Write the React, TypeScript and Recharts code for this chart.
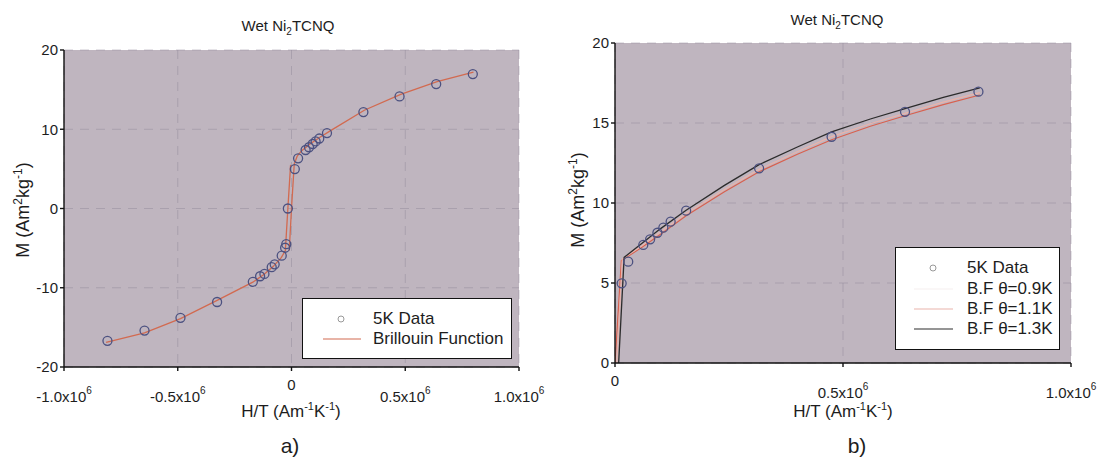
import React from 'react';
import { ComposedChart, Scatter, Line, XAxis, YAxis, CartesianGrid } from 'recharts';

// 5K data, negative field branch
const negH = [-809000, -646000, -488000, -327000, -170000, -138000, -119000, -87000, -74000, -43000, -28000, -23000, -16000];
const negM = [-16.7, -15.4, -13.8, -11.8, -9.25, -8.55, -8.25, -7.4, -7.05, -5.95, -4.95, -4.5, 0.0];
// 5K data, positive branch
const posH = [14600, 29000, 62000, 77000, 93000, 106000, 122000, 156000, 316000, 475000, 636000, 797000];
const posM = [4.98, 6.33, 7.38, 7.73, 8.14, 8.46, 8.83, 9.52, 12.17, 14.14, 15.7, 16.96];

// Brillouin fit, panel a (drawn as two branches, they overlap except near zero)
const bfNegH = [-815000, -646000, -488000, -327000, -170000, -120000, -80000, -45000, -27000, -16000, -4000];
const bfNegM = [-16.9, -15.7, -13.9, -11.6, -9.3, -8.3, -7.3, -6.2, -5.3, 0, 5.5];
const bfPosH = [-10000, 0, 12000, 25000, 45000, 80000, 120000, 170000, 320000, 480000, 640000, 800000];
const bfPosM = [-5.3, 0, 5.6, 6.6, 7.3, 8.1, 8.9, 9.8, 12.4, 14.4, 16.0, 17.2];

// Brillouin fits, panel b
const bf09H = [0, 14000, 60000, 100000, 156000, 240000, 316000, 400000, 475000, 560000, 636000, 720000, 800000];
const bf09M = [0, 6.4, 7.25, 8.05, 9.2, 10.7, 11.95, 13.05, 13.95, 14.8, 15.45, 16.15, 16.75];
const bf11H = [4000, 16000, 60000, 100000, 156000, 240000, 316000, 400000, 475000, 560000, 636000, 720000, 800000];
const bf11M = [0, 6.5, 7.35, 8.2, 9.35, 10.85, 12.1, 13.2, 14.15, 14.95, 15.6, 16.3, 16.9];
const bf13H = [8000, 20000, 60000, 100000, 156000, 240000, 316000, 400000, 475000, 560000, 636000, 720000, 800000];
const bf13M = [0, 6.6, 7.5, 8.4, 9.55, 11.1, 12.4, 13.5, 14.45, 15.25, 15.9, 16.6, 17.2];

const leftXTicks = [-1000000, -500000, 0, 500000, 1000000];
const leftXLabels = ['-1.0x10', '-0.5x10', '0', '0.5x10', '1.0x10'];
const leftYTicks = [-20, -10, 0, 10, 20];
const rightXTicks = [0, 500000, 1000000];
const rightXLabels = ['0', '0.5x10', '1.0x10'];
const rightYTicks = [0, 5, 10, 15, 20];

const FONT = '"Liberation Sans", Arial, sans-serif';
const TXT = '#1d1d1d';
const PLOT_BG = '#bfb5bf';
const GRID = '#8f8896';
const DATA_C = '#4c5180';
const BF_C = '#d26a50';
const BF09_C = '#d8604e';
const BF11_C = '#e9b3ab';
const BF13_C = '#2c2c2c';

const zip = (h: number[], m: number[]) => h.map((v, i) => ({ h: v, m: m[i] }));

function PowTick(props: any) {
  const { x, y, payload, ticks, labels } = props;
  const i = ticks.indexOf(payload.value);
  const base = labels[i] ?? '';
  if (base === '0') {
    return (
      <text x={x} y={y + 17} textAnchor="middle" fontSize={15} fontFamily={FONT} fill={TXT}>0</text>
    );
  }
  return (
    <text x={x} y={y + 29} textAnchor="middle" fontSize={15} fontFamily={FONT} fill={TXT}>
      {base}
      <tspan dy={-8} fontSize={10}>6</tspan>
    </text>
  );
}

const circleShape = (p: any) => (
  <circle cx={p.cx} cy={p.cy} r={4.5} fill="none" stroke={DATA_C} strokeWidth={1.3} />
);

const noLabel = () => '';

function Title({ left, top }: { left: number; top: number }) {
  return (
    <div style={{ position: 'absolute', left, top, transform: 'translate(-50%, -50%)', fontFamily: FONT, fontSize: 15, color: TXT, whiteSpace: 'nowrap' }}>
      Wet Ni<sub style={{ fontSize: 10 }}>2</sub>TCNQ
    </div>
  );
}

function XLabel({ left, top }: { left: number; top: number }) {
  return (
    <div style={{ position: 'absolute', left, top, transform: 'translate(-50%, -50%)', fontFamily: FONT, fontSize: 17, color: TXT, whiteSpace: 'nowrap' }}>
      H/T (Am<sup style={{ fontSize: 11 }}>-1</sup>K<sup style={{ fontSize: 11 }}>-1</sup>)
    </div>
  );
}

function YLabel({ left, top }: { left: number; top: number }) {
  return (
    <div style={{ position: 'absolute', left, top, transform: 'translate(-50%, -50%) rotate(-90deg)', fontFamily: FONT, fontSize: 18, color: TXT, whiteSpace: 'nowrap' }}>
      M (Am<sup style={{ fontSize: 12 }}>2</sup>kg<sup style={{ fontSize: 12 }}>-1</sup>)
    </div>
  );
}

function Panel(props: any) {
  const { width, margin, xDomain, xTicks, xLabels, yDomain, yTicks, yWidth, children } = props;
  return (
    <ComposedChart width={width} height={464} margin={margin}>
      <CartesianGrid fill={PLOT_BG} fillOpacity={1} stroke={GRID} strokeDasharray="9 7" strokeOpacity={0.45} />
      <XAxis dataKey="h" type="number" domain={xDomain} ticks={xTicks} allowDataOverflow height={30}
        stroke="#111" strokeWidth={1.4} tickSize={4}
        tick={(p: any) => <PowTick {...p} ticks={xTicks} labels={xLabels} />} />
      <XAxis xAxisId="top" orientation="top" dataKey="h" type="number" domain={xDomain} ticks={xTicks}
        height={0} stroke="#111" strokeWidth={1.4} tickSize={4} tickFormatter={noLabel} />
      <YAxis dataKey="m" type="number" domain={yDomain} ticks={yTicks} allowDataOverflow width={yWidth}
        stroke="#111" strokeWidth={1.4} tickSize={4}
        tick={{ fontSize: 15, fontFamily: FONT, fill: TXT }} />
      <YAxis yAxisId="right" orientation="right" dataKey="m" type="number" domain={yDomain} ticks={yTicks}
        width={0} stroke="#111" strokeWidth={1.4} tickSize={4} tickFormatter={noLabel} />
      {children}
    </ComposedChart>
  );
}

export default function App() {
  const allData = zip(negH.concat(posH), negM.concat(posM));
  const posData = zip(posH, posM);

  const rowStyle = { position: 'absolute' as const, lineHeight: '20px', whiteSpace: 'nowrap' as const };

  return (
    <div style={{ position: 'absolute', left: 0, top: 0, width: 1102, height: 464, background: '#fff', overflow: 'hidden' }}>
      <div style={{ position: 'absolute', left: 0, top: 0 }}>
        <Panel width={560} margin={{ top: 50, right: 41, bottom: 67, left: 4 }}
          xDomain={[-1000000, 1000000]} xTicks={leftXTicks} xLabels={leftXLabels}
          yDomain={[-20, 20]} yTicks={leftYTicks} yWidth={60}>
          <Line data={zip(bfNegH, bfNegM)} dataKey="m" type="linear" dot={false} stroke={BF_C} strokeWidth={1.3} isAnimationActive={false} />
          <Line data={zip(bfPosH, bfPosM)} dataKey="m" type="linear" dot={false} stroke={BF_C} strokeWidth={1.3} isAnimationActive={false} />
          <Scatter data={allData} dataKey="m" shape={circleShape} isAnimationActive={false} />
        </Panel>
      </div>
      <div style={{ position: 'absolute', left: 560, top: 0 }}>
        <Panel width={542} margin={{ top: 43, right: 31, bottom: 71, left: 5 }}
          xDomain={[0, 1000000]} xTicks={rightXTicks} xLabels={rightXLabels}
          yDomain={[0, 20]} yTicks={rightYTicks} yWidth={50}>
          <Line data={zip(bf09H, bf09M)} dataKey="m" type="linear" dot={false} stroke={BF09_C} strokeWidth={1.2} isAnimationActive={false} />
          <Line data={zip(bf11H, bf11M)} dataKey="m" type="linear" dot={false} stroke={BF11_C} strokeWidth={1.2} isAnimationActive={false} />
          <Line data={zip(bf13H, bf13M)} dataKey="m" type="linear" dot={false} stroke={BF13_C} strokeWidth={1.3} isAnimationActive={false} />
          <Scatter data={posData} dataKey="m" shape={circleShape} isAnimationActive={false} />
        </Panel>
      </div>

      <Title left={288} top={27} />
      <Title left={837} top={21} />
      <YLabel left={22} top={210} />
      <YLabel left={577} top={200} />
      <XLabel left={291} top={411} />
      <XLabel left={843} top={411} />
      <div style={{ position: 'absolute', left: 290, top: 446, transform: 'translate(-50%, -50%)', fontFamily: FONT, fontSize: 21, color: TXT }}>a)</div>
      <div style={{ position: 'absolute', left: 857, top: 446, transform: 'translate(-50%, -50%)', fontFamily: FONT, fontSize: 21, color: TXT }}>b)</div>

      {/* legend a */}
      <div style={{ position: 'absolute', left: 302, top: 298, width: 208, height: 59, background: '#fff', border: '1.5px solid #111', fontFamily: FONT, fontSize: 17, color: TXT }}>
        <svg width={60} height={59} style={{ position: 'absolute', left: 0, top: 0 }}>
          <circle cx={38} cy={20} r={3} fill="none" stroke="#999" strokeWidth={1} />
          <line x1={20} y1={40} x2={58} y2={40} stroke={BF_C} strokeWidth={1.2} />
        </svg>
        <div style={{ ...rowStyle, left: 70, top: 10 }}>5K Data</div>
        <div style={{ ...rowStyle, left: 70, top: 30 }}>Brillouin Function</div>
      </div>

      {/* legend b */}
      <div style={{ position: 'absolute', left: 895, top: 247, width: 163, height: 101, background: '#fff', border: '1.5px solid #111', fontFamily: FONT, fontSize: 17, color: TXT }}>
        <svg width={62} height={101} style={{ position: 'absolute', left: 0, top: 0 }}>
          <circle cx={37} cy={20} r={3} fill="none" stroke="#999" strokeWidth={1} />
          <line x1={18} y1={41} x2={57} y2={41} stroke="#f6f0ef" strokeWidth={1.2} />
          <line x1={18} y1={61} x2={57} y2={61} stroke={BF11_C} strokeWidth={1.2} />
          <line x1={18} y1={81} x2={57} y2={81} stroke={BF13_C} strokeWidth={1.2} />
        </svg>
        <div style={{ ...rowStyle, left: 71, top: 10 }}>5K Data</div>
        <div style={{ ...rowStyle, left: 71, top: 31 }}>B.F θ=0.9K</div>
        <div style={{ ...rowStyle, left: 71, top: 51 }}>B.F θ=1.1K</div>
        <div style={{ ...rowStyle, left: 71, top: 71 }}>B.F θ=1.3K</div>
      </div>
    </div>
  );
}
